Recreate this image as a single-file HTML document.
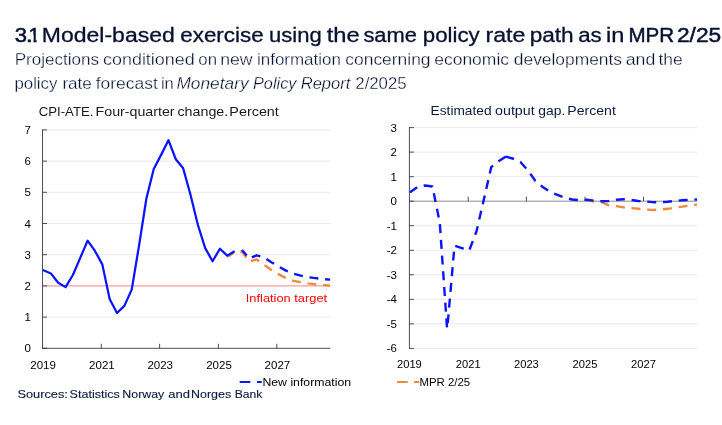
<!DOCTYPE html>
<html lang="en"><head><meta charset="utf-8"><title>3.1 Model-based exercise using the same policy rate path as in MPR 2/25</title>
<style>html,body{margin:0;padding:0;background:#fff}body{width:722px;height:425px;overflow:hidden}svg{display:block}text{font-family:"Liberation Sans",Arial,sans-serif}.tk{font-size:11.3px;fill:#000}.ctl{font-size:13px;fill:#1a1a1a}.ctr{font-size:13px;fill:#0b1a3d}.hd{font-size:20px;fill:#07112f;stroke:#07112f;stroke-width:.3px}.sb{font-size:16px;fill:#06102e;stroke:#fff;stroke-width:.28px}.src{font-size:11.8px;fill:#0b1a3d;stroke:#0b1a3d;stroke-width:.12px}</style></head><body>
<svg width="722" height="425" viewBox="0 0 722 425">
<rect width="722" height="425" fill="#fff"/>
<clipPath id="c1"><path d="M33.55,24 H36.6 V43 H33.55 Z M29,24 H33.6 V35 H29 Z"/></clipPath>
<g><text x="14.87" y="41.6" class="hd" textLength="12.29" lengthAdjust="spacingAndGlyphs" style="stroke-width:.5px">3</text><text x="25.70" y="41.6" class="hd" textLength="7.11" lengthAdjust="spacingAndGlyphs" style="stroke-width:.5px">.</text><text x="28.55" y="41.6" class="hd" textLength="11.5" lengthAdjust="spacingAndGlyphs" clip-path="url(#c1)" style="stroke-width:.5px">1</text></g>
<g><text x="41.83" y="41.6" class="hd" textLength="132.90" lengthAdjust="spacingAndGlyphs">Model-based</text> <text x="180.22" y="41.6" class="hd" textLength="83.43" lengthAdjust="spacingAndGlyphs">exercise</text> <text x="269.12" y="41.6" class="hd" textLength="52.62" lengthAdjust="spacingAndGlyphs">using</text> <text x="326.70" y="41.6" class="hd" textLength="33.00" lengthAdjust="spacingAndGlyphs">the</text> <text x="363.42" y="41.6" class="hd" textLength="53.58" lengthAdjust="spacingAndGlyphs">same</text> <text x="422.81" y="41.6" class="hd" textLength="56.94" lengthAdjust="spacingAndGlyphs">policy</text> <text x="485.41" y="41.6" class="hd" textLength="39.97" lengthAdjust="spacingAndGlyphs">rate</text> <text x="529.69" y="41.6" class="hd" textLength="43.98" lengthAdjust="spacingAndGlyphs">path</text> <text x="578.23" y="41.6" class="hd" textLength="23.51" lengthAdjust="spacingAndGlyphs">as</text> <text x="605.98" y="41.6" class="hd" textLength="18.38" lengthAdjust="spacingAndGlyphs">in</text></g>
<g><text x="628.43" y="41.6" class="hd" textLength="45.67" lengthAdjust="spacingAndGlyphs" style="stroke-width:.5px">MPR</text> <text x="676.96" y="41.6" class="hd" textLength="44.25" lengthAdjust="spacingAndGlyphs" style="stroke-width:.5px">2/25</text></g>
<g><text x="14.74" y="64.9" class="sb" textLength="84.32" lengthAdjust="spacingAndGlyphs">Projections</text> <text x="103.00" y="64.9" class="sb" textLength="91.73" lengthAdjust="spacingAndGlyphs">conditioned</text> <text x="198.34" y="64.9" class="sb" textLength="18.65" lengthAdjust="spacingAndGlyphs">on</text> <text x="220.16" y="64.9" class="sb" textLength="32.42" lengthAdjust="spacingAndGlyphs">new</text> <text x="257.01" y="64.9" class="sb" textLength="83.88" lengthAdjust="spacingAndGlyphs">information</text> <text x="345.32" y="64.9" class="sb" textLength="85.19" lengthAdjust="spacingAndGlyphs">concerning</text> <text x="434.22" y="64.9" class="sb" textLength="74.80" lengthAdjust="spacingAndGlyphs">economic</text> <text x="513.82" y="64.9" class="sb" textLength="108.25" lengthAdjust="spacingAndGlyphs">developments</text> <text x="625.71" y="64.9" class="sb" textLength="29.58" lengthAdjust="spacingAndGlyphs">and</text> <text x="658.53" y="64.9" class="sb" textLength="24.28" lengthAdjust="spacingAndGlyphs">the</text></g>
<g><text x="14.45" y="88.7" class="sb" textLength="42.98" lengthAdjust="spacingAndGlyphs">policy</text> <text x="62.40" y="88.7" class="sb" textLength="29.34" lengthAdjust="spacingAndGlyphs">rate</text> <text x="95.73" y="88.7" class="sb" textLength="62.05" lengthAdjust="spacingAndGlyphs">forecast</text> <text x="160.95" y="88.7" class="sb" textLength="12.76" lengthAdjust="spacingAndGlyphs">in</text></g>
<g><text x="176.46" y="88.7" class="sb" textLength="72.11" lengthAdjust="spacingAndGlyphs" font-style="italic">Monetary</text> <text x="252.99" y="88.7" class="sb" textLength="43.50" lengthAdjust="spacingAndGlyphs" font-style="italic">Policy</text> <text x="300.68" y="88.7" class="sb" textLength="49.79" lengthAdjust="spacingAndGlyphs" font-style="italic">Report</text></g>
<g><text x="355.31" y="88.7" class="sb" textLength="51.31" lengthAdjust="spacingAndGlyphs">2/2025</text></g>
<g><text x="38.66" y="115.9" class="ctl" textLength="54.83" lengthAdjust="spacingAndGlyphs">CPI-ATE.</text> <text x="95.57" y="115.9" class="ctl" textLength="79.00" lengthAdjust="spacingAndGlyphs">Four-quarter</text> <text x="177.45" y="115.9" class="ctl" textLength="50.80" lengthAdjust="spacingAndGlyphs">change.</text> <text x="229.36" y="115.9" class="ctl" textLength="49.50" lengthAdjust="spacingAndGlyphs">Percent</text></g>
<g><text x="430.61" y="115.1" class="ctr" textLength="60.93" lengthAdjust="spacingAndGlyphs">Estimated</text> <text x="495.05" y="115.1" class="ctr" textLength="39.61" lengthAdjust="spacingAndGlyphs">output</text> <text x="538.37" y="115.1" class="ctr" textLength="26.99" lengthAdjust="spacingAndGlyphs">gap.</text> <text x="567.38" y="115.1" class="ctr" textLength="48.47" lengthAdjust="spacingAndGlyphs">Percent</text></g>
<g><text x="17.42" y="398" class="src" textLength="50.43" lengthAdjust="spacingAndGlyphs">Sources:</text> <text x="69.64" y="398" class="src" textLength="50.15" lengthAdjust="spacingAndGlyphs">Statistics</text> <text x="122.35" y="398" class="src" textLength="41.97" lengthAdjust="spacingAndGlyphs">Norway</text> <text x="168.35" y="398" class="src" textLength="21.75" lengthAdjust="spacingAndGlyphs">and</text> <text x="191.05" y="398" class="src" textLength="40.09" lengthAdjust="spacingAndGlyphs">Norges</text> <text x="234.77" y="398" class="src" textLength="27.65" lengthAdjust="spacingAndGlyphs">Bank</text></g>
<line x1="42.5" x2="330.3" y1="317.1" y2="317.1" stroke="#eaeaea" stroke-width="1"/>
<line x1="42.5" x2="330.3" y1="285.9" y2="285.9" stroke="#eaeaea" stroke-width="1"/>
<line x1="42.5" x2="330.3" y1="254.7" y2="254.7" stroke="#eaeaea" stroke-width="1"/>
<line x1="42.5" x2="330.3" y1="223.5" y2="223.5" stroke="#eaeaea" stroke-width="1"/>
<line x1="42.5" x2="330.3" y1="192.3" y2="192.3" stroke="#eaeaea" stroke-width="1"/>
<line x1="42.5" x2="330.3" y1="161.1" y2="161.1" stroke="#eaeaea" stroke-width="1"/>
<line x1="42.5" x2="330.3" y1="129.9" y2="129.9" stroke="#eaeaea" stroke-width="1"/>
<line x1="42.5" x2="330.3" y1="285.9" y2="285.9" stroke="#ff9090" stroke-width="1"/>
<line x1="42.5" x2="42.5" y1="129.4" y2="348.8" stroke="#2a2f42" stroke-width="0.85"/>
<line x1="42.0" x2="330.3" y1="348.3" y2="348.3" stroke="#2a2f42" stroke-width="0.85"/>
<line x1="42.5" x2="47.0" y1="348.3" y2="348.3" stroke="#2a2f42" stroke-width="0.85"/>
<text x="31" y="352.3" class="tk" text-anchor="end" textLength="6.4" lengthAdjust="spacingAndGlyphs">0</text>
<line x1="42.5" x2="47.0" y1="317.1" y2="317.1" stroke="#2a2f42" stroke-width="0.85"/>
<text x="31" y="321.1" class="tk" text-anchor="end" textLength="6.4" lengthAdjust="spacingAndGlyphs">1</text>
<line x1="42.5" x2="47.0" y1="285.9" y2="285.9" stroke="#2a2f42" stroke-width="0.85"/>
<text x="31" y="289.9" class="tk" text-anchor="end" textLength="6.4" lengthAdjust="spacingAndGlyphs">2</text>
<line x1="42.5" x2="47.0" y1="254.7" y2="254.7" stroke="#2a2f42" stroke-width="0.85"/>
<text x="31" y="258.7" class="tk" text-anchor="end" textLength="6.4" lengthAdjust="spacingAndGlyphs">3</text>
<line x1="42.5" x2="47.0" y1="223.5" y2="223.5" stroke="#2a2f42" stroke-width="0.85"/>
<text x="31" y="227.5" class="tk" text-anchor="end" textLength="6.4" lengthAdjust="spacingAndGlyphs">4</text>
<line x1="42.5" x2="47.0" y1="192.3" y2="192.3" stroke="#2a2f42" stroke-width="0.85"/>
<text x="31" y="196.3" class="tk" text-anchor="end" textLength="6.4" lengthAdjust="spacingAndGlyphs">5</text>
<line x1="42.5" x2="47.0" y1="161.1" y2="161.1" stroke="#2a2f42" stroke-width="0.85"/>
<text x="31" y="165.1" class="tk" text-anchor="end" textLength="6.4" lengthAdjust="spacingAndGlyphs">6</text>
<line x1="42.5" x2="47.0" y1="129.9" y2="129.9" stroke="#2a2f42" stroke-width="0.85"/>
<text x="31" y="133.9" class="tk" text-anchor="end" textLength="6.4" lengthAdjust="spacingAndGlyphs">7</text>
<text x="43.1" y="368.6" class="tk" text-anchor="middle" textLength="25.6" lengthAdjust="spacingAndGlyphs">2019</text>
<line x1="101.3" x2="101.3" y1="343.8" y2="348.3" stroke="#2a2f42" stroke-width="0.85"/>
<text x="101.9" y="368.6" class="tk" text-anchor="middle" textLength="25.6" lengthAdjust="spacingAndGlyphs">2021</text>
<line x1="159.6" x2="159.6" y1="343.8" y2="348.3" stroke="#2a2f42" stroke-width="0.85"/>
<text x="160.2" y="368.6" class="tk" text-anchor="middle" textLength="25.6" lengthAdjust="spacingAndGlyphs">2023</text>
<line x1="218.4" x2="218.4" y1="343.8" y2="348.3" stroke="#2a2f42" stroke-width="0.85"/>
<text x="219.0" y="368.6" class="tk" text-anchor="middle" textLength="25.6" lengthAdjust="spacingAndGlyphs">2025</text>
<line x1="276.8" x2="276.8" y1="343.8" y2="348.3" stroke="#2a2f42" stroke-width="0.85"/>
<text x="277.4" y="368.6" class="tk" text-anchor="middle" textLength="25.6" lengthAdjust="spacingAndGlyphs">2027</text>
<path d="M227.25,256.88 L234.60,252.20 L241.95,251.58 L249.30,261.56 L256.65,259.38 L264.00,264.68 L271.35,269.99 L278.70,274.36 L286.05,278.10 L293.40,280.91 L300.75,282.16 L308.10,283.40 L315.45,284.34 L322.80,284.96 L330.15,285.59" fill="none" stroke="#f08a3c" stroke-width="2.4" stroke-dasharray="9 6.75" stroke-dashoffset="1.3" stroke-linejoin="round"/>
<path d="M241.95,250.02 L249.30,258.44 L256.65,255.32 L264.00,257.51 L271.35,262.19 L278.70,266.56 L286.05,270.61 L293.40,273.73 L300.75,275.60 L308.10,277.16 L315.45,278.10 L322.80,279.04 L330.15,279.66" fill="none" stroke="#0a14ff" stroke-width="2.4" stroke-dasharray="9 6.75" stroke-dashoffset="1.8" stroke-linejoin="round"/>
<path d="M42.90,269.93 L43.50,270.30 L50.85,273.42 L58.20,282.78 L65.55,287.15 L72.90,274.98 L80.25,257.82 L87.60,240.66 L94.95,250.96 L102.30,264.37 L109.65,299.00 L117.00,313.04 L124.35,305.87 L131.70,289.64 L139.05,245.65 L146.40,198.54 L153.75,168.90 L161.10,154.86 L168.45,140.20 L175.80,159.23 L183.15,168.28 L190.50,194.80 L197.85,224.75 L205.20,248.15 L212.55,261.25 L219.90,248.77 L227.25,255.64 L234.60,251.27" fill="none" stroke="#0a14ff" stroke-width="2.25" stroke-linejoin="round"/>
<text x="245.8" y="302.0" class="tk" textLength="81.3" lengthAdjust="spacingAndGlyphs" style="fill:#ff0000;font-size:11.8px">Inflation target</text>
<line x1="409.4" x2="697.4" y1="348.4" y2="348.4" stroke="#eaeaea" stroke-width="1"/>
<line x1="409.4" x2="697.4" y1="323.9" y2="323.9" stroke="#eaeaea" stroke-width="1"/>
<line x1="409.4" x2="697.4" y1="299.3" y2="299.3" stroke="#eaeaea" stroke-width="1"/>
<line x1="409.4" x2="697.4" y1="274.8" y2="274.8" stroke="#eaeaea" stroke-width="1"/>
<line x1="409.4" x2="697.4" y1="250.3" y2="250.3" stroke="#eaeaea" stroke-width="1"/>
<line x1="409.4" x2="697.4" y1="225.7" y2="225.7" stroke="#eaeaea" stroke-width="1"/>
<line x1="409.4" x2="697.4" y1="176.7" y2="176.7" stroke="#eaeaea" stroke-width="1"/>
<line x1="409.4" x2="697.4" y1="152.1" y2="152.1" stroke="#eaeaea" stroke-width="1"/>
<line x1="409.4" x2="697.4" y1="127.6" y2="127.6" stroke="#eaeaea" stroke-width="1"/>
<line x1="409.4" x2="697.4" y1="201.2" y2="201.2" stroke="#8a8a8a" stroke-width="1"/>
<line x1="409.4" x2="409.4" y1="127.1" y2="348.9" stroke="#2a2f42" stroke-width="0.85"/>
<line x1="409.4" x2="413.9" y1="348.4" y2="348.4" stroke="#2a2f42" stroke-width="0.85"/>
<text x="397" y="352.4" class="tk" text-anchor="end" textLength="10.2" lengthAdjust="spacingAndGlyphs">-6</text>
<line x1="409.4" x2="413.9" y1="323.9" y2="323.9" stroke="#2a2f42" stroke-width="0.85"/>
<text x="397" y="327.9" class="tk" text-anchor="end" textLength="10.2" lengthAdjust="spacingAndGlyphs">-5</text>
<line x1="409.4" x2="413.9" y1="299.3" y2="299.3" stroke="#2a2f42" stroke-width="0.85"/>
<text x="397" y="303.3" class="tk" text-anchor="end" textLength="10.2" lengthAdjust="spacingAndGlyphs">-4</text>
<line x1="409.4" x2="413.9" y1="274.8" y2="274.8" stroke="#2a2f42" stroke-width="0.85"/>
<text x="397" y="278.8" class="tk" text-anchor="end" textLength="10.2" lengthAdjust="spacingAndGlyphs">-3</text>
<line x1="409.4" x2="413.9" y1="250.3" y2="250.3" stroke="#2a2f42" stroke-width="0.85"/>
<text x="397" y="254.3" class="tk" text-anchor="end" textLength="10.2" lengthAdjust="spacingAndGlyphs">-2</text>
<line x1="409.4" x2="413.9" y1="225.7" y2="225.7" stroke="#2a2f42" stroke-width="0.85"/>
<text x="397" y="229.7" class="tk" text-anchor="end" textLength="10.2" lengthAdjust="spacingAndGlyphs">-1</text>
<line x1="409.4" x2="413.9" y1="201.2" y2="201.2" stroke="#2a2f42" stroke-width="0.85"/>
<text x="397" y="205.2" class="tk" text-anchor="end" textLength="6.4" lengthAdjust="spacingAndGlyphs">0</text>
<line x1="409.4" x2="413.9" y1="176.7" y2="176.7" stroke="#2a2f42" stroke-width="0.85"/>
<text x="397" y="180.7" class="tk" text-anchor="end" textLength="6.4" lengthAdjust="spacingAndGlyphs">1</text>
<line x1="409.4" x2="413.9" y1="152.1" y2="152.1" stroke="#2a2f42" stroke-width="0.85"/>
<text x="397" y="156.1" class="tk" text-anchor="end" textLength="6.4" lengthAdjust="spacingAndGlyphs">2</text>
<line x1="409.4" x2="413.9" y1="127.6" y2="127.6" stroke="#2a2f42" stroke-width="0.85"/>
<text x="397" y="131.6" class="tk" text-anchor="end" textLength="6.4" lengthAdjust="spacingAndGlyphs">3</text>
<text x="409.4" y="367.9" class="tk" text-anchor="middle" textLength="24.8" lengthAdjust="spacingAndGlyphs">2019</text>
<line x1="468.2" x2="468.2" y1="196.7" y2="201.2" stroke="#2a2f42" stroke-width="0.85"/>
<text x="468.2" y="367.9" class="tk" text-anchor="middle" textLength="24.8" lengthAdjust="spacingAndGlyphs">2021</text>
<line x1="526.4" x2="526.4" y1="196.7" y2="201.2" stroke="#2a2f42" stroke-width="0.85"/>
<text x="526.4" y="367.9" class="tk" text-anchor="middle" textLength="24.8" lengthAdjust="spacingAndGlyphs">2023</text>
<line x1="585.0" x2="585.0" y1="196.7" y2="201.2" stroke="#2a2f42" stroke-width="0.85"/>
<text x="585.0" y="367.9" class="tk" text-anchor="middle" textLength="24.8" lengthAdjust="spacingAndGlyphs">2025</text>
<line x1="643.5" x2="643.5" y1="196.7" y2="201.2" stroke="#2a2f42" stroke-width="0.85"/>
<text x="643.5" y="367.9" class="tk" text-anchor="middle" textLength="24.8" lengthAdjust="spacingAndGlyphs">2027</text>
<path d="M586.80,199.97 L594.15,201.45 L601.50,202.18 L608.85,205.37 L616.20,206.11 L623.55,207.33 L630.90,208.07 L638.25,208.81 L645.60,209.54 L652.95,210.03 L660.30,209.54 L667.65,208.81 L675.00,207.58 L682.35,206.60 L689.70,205.37 L697.05,204.63" fill="none" stroke="#f08a3c" stroke-width="2.4" stroke-dasharray="9 6.75" stroke-dashoffset="1.5" stroke-linejoin="round"/>
<path d="M409.80,192.49 L410.40,191.88 L417.75,186.97 L425.10,185.50 L432.45,186.48 L439.80,222.79 L447.15,330.00" fill="none" stroke="#0a14ff" stroke-width="2.4" stroke-dasharray="9 6.75" stroke-dashoffset="0" stroke-linejoin="round"/>
<path d="M447.15,330.00 L454.50,245.61 L461.85,248.06 L469.20,250.51 L476.55,231.13 L483.90,199.24 L491.25,167.10 L498.60,161.21 L505.95,156.55" fill="none" stroke="#0a14ff" stroke-width="2.4" stroke-dasharray="9 6.75" stroke-dashoffset="8.99" stroke-linejoin="round"/>
<path d="M505.95,156.55 L513.30,158.76 L520.65,162.19 L528.00,170.53 L535.35,180.84 L542.70,186.97 L550.05,191.88 L557.40,194.82 L564.75,197.77 L572.10,199.48 L579.45,200.22 L586.80,199.73 L594.15,200.71 L601.50,201.20 L608.85,200.95 L616.20,199.73 L623.55,199.24 L630.90,199.97 L638.25,200.95 L645.60,201.45 L652.95,202.18 L660.30,202.18 L667.65,201.69 L675.00,200.95 L682.35,200.22 L689.70,199.97 L697.05,199.48" fill="none" stroke="#0a14ff" stroke-width="2.4" stroke-dasharray="9 6.75" stroke-dashoffset="0.6" stroke-linejoin="round"/>
<path d="M239.7,382 H261.8" fill="none" stroke="#0a14ff" stroke-width="2.1" stroke-dasharray="10.6 6.8"/>
<text x="262.4" y="386.1" class="tk" textLength="88.8" lengthAdjust="spacingAndGlyphs">New information</text>
<path d="M397.1,382 H419.3" fill="none" stroke="#f08a3c" stroke-width="2.1" stroke-dasharray="10.6 6.4"/>
<text x="419.4" y="386.1" class="tk" textLength="50.8" lengthAdjust="spacingAndGlyphs">MPR 2/25</text>
</svg></body></html>
